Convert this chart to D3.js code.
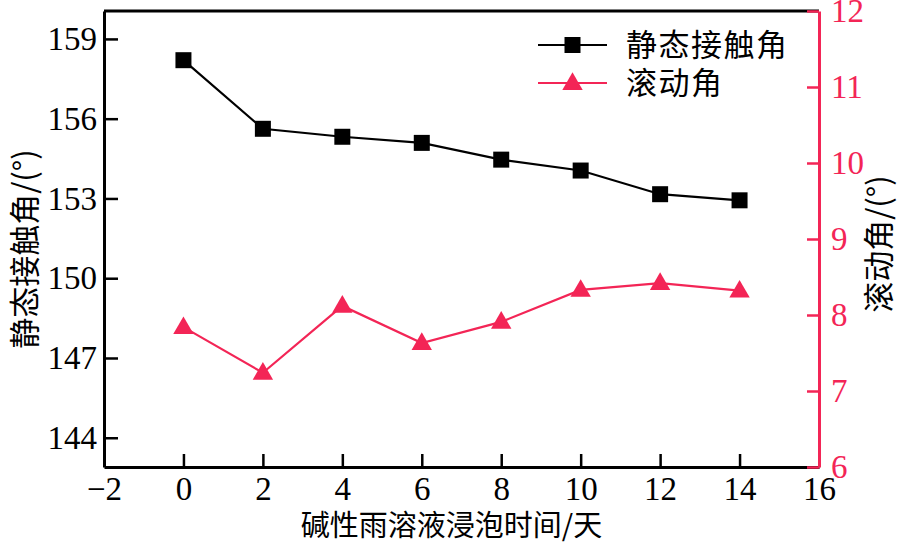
<!DOCTYPE html>
<html>
<head>
<meta charset="utf-8">
<script src="https://cdn.jsdelivr.net/npm/d3@7"></script>
<style>
  body { margin: 0; background: #fff; }
  svg { display: block; }
  .tick text { font-family: "Liberation Serif", "Times New Roman", serif; }
</style>
</head>
<body>
<svg width="904" height="546"></svg>
<script>
// data
var days = [0, 2, 4, 6, 8, 10, 12, 14];
var contactAngle = [158.2, 155.62, 155.32, 155.09, 154.46, 154.05, 153.16, 152.93];
var slideAngle = [7.84, 7.24, 8.12, 7.63, 7.91, 8.33, 8.42, 8.32];
var xTicks = [-2, 0, 2, 4, 6, 8, 10, 12, 14, 16];
var leftTicks = [144, 147, 150, 153, 156, 159];
var rightTicks = [6, 7, 8, 9, 10, 11, 12];
var seriesNames = ["静态接触角", "滚动角"];

var red = "#f32556";
var svg = d3.select("svg");
var pLeft = 104, pRight = 819, pTop = 11, pBottom = 467;

var x = d3.scaleLinear().domain([-2, 16]).range([pLeft, pRight]);
var yL = d3.scaleLinear().domain([142.9, 160.05]).range([pBottom, pTop]);
var yR = d3.scaleLinear().domain([6, 12]).range([pBottom, pTop]);

var fontCJK = "Noto Sans CJK SC";
var numSize = 33;

// x axis (ticks point inward)
var gx = svg.append("g")
  .attr("transform", "translate(0," + pBottom + ")")
  .call(d3.axisBottom(x).tickValues(xTicks).tickSizeInner(-13).tickSizeOuter(0)
    .tickFormat(function(d) { return d < 0 ? "\u2212" + Math.abs(d) : d; }));
gx.select(".domain").attr("stroke-width", 3);
gx.selectAll(".tick line").attr("stroke-width", 2.5);
gx.selectAll(".tick text").attr("y", 10).attr("dy", "0.71em")
  .attr("font-size", numSize).attr("fill", "#000");

// left axis
var gl = svg.append("g")
  .attr("transform", "translate(" + pLeft + ",0)")
  .call(d3.axisLeft(yL).tickValues(leftTicks).tickSizeInner(-14).tickSizeOuter(0));
gl.select(".domain").attr("stroke-width", 3);
gl.selectAll(".tick line").attr("stroke-width", 2.5);
gl.selectAll(".tick text").attr("x", -7).attr("font-size", numSize).attr("fill", "#000");

// top line
svg.append("line")
  .attr("x1", pLeft).attr("x2", pRight).attr("y1", pTop).attr("y2", pTop)
  .attr("stroke", "#000").attr("stroke-width", 3);

// right axis in red
var gr = svg.append("g")
  .attr("transform", "translate(" + pRight + ",0)")
  .call(d3.axisRight(yR).tickValues(rightTicks).tickFormat(d3.format("d"))
    .tickSizeInner(-12).tickSizeOuter(0));
gr.select(".domain").attr("stroke", red).attr("stroke-width", 3);
gr.selectAll(".tick line").attr("stroke", red).attr("stroke-width", 2.5);
gr.selectAll(".tick text").attr("x", 12).attr("font-size", numSize).attr("fill", red);

// lines and markers
var lineL = d3.line().x(function(d, i) { return x(days[i]); }).y(function(d) { return yL(d); });
var lineR = d3.line().x(function(d, i) { return x(days[i]); }).y(function(d) { return yR(d); });

svg.append("path").datum(contactAngle)
  .attr("d", lineL).attr("fill", "none").attr("stroke", "#000").attr("stroke-width", 2.2);
svg.append("path").datum(slideAngle)
  .attr("d", lineR).attr("fill", "none").attr("stroke", red).attr("stroke-width", 2.2);

var sq = d3.symbol().type(d3.symbolSquare).size(16 * 16);
var tri = d3.symbol().type(d3.symbolTriangle).size(180);

svg.selectAll(".sq").data(contactAngle).enter().append("path")
  .attr("class", "sq")
  .attr("d", sq)
  .attr("transform", function(d, i) { return "translate(" + x(days[i]) + "," + yL(d) + ")"; })
  .attr("fill", "#000");

svg.selectAll(".tri").data(slideAngle).enter().append("path")
  .attr("class", "tri")
  .attr("d", tri)
  .attr("transform", function(d, i) { return "translate(" + x(days[i]) + "," + (yR(d) + 1) + ")"; })
  .attr("fill", red);

// legend
var legend = svg.append("g");
[0, 1].forEach(function(i) {
  var ly = i === 0 ? 45 : 83;
  var col = i === 0 ? "#000" : red;
  legend.append("line").attr("x1", 538).attr("x2", 607).attr("y1", ly).attr("y2", ly)
    .attr("stroke", col).attr("stroke-width", 2.2);
  legend.append("path").attr("d", i === 0 ? sq : tri)
    .attr("transform", "translate(572.5," + (ly + (i === 0 ? 0 : 1)) + ")")
    .attr("fill", col);
  legend.append("text").attr("x", 626).attr("y", ly).attr("dy", "0.36em")
    .attr("font-family", fontCJK).attr("font-size", 31).attr("letter-spacing", 1.5)
    .text(seriesNames[i]);
});

// axis titles
svg.append("text")
  .attr("x", (pLeft + pRight) / 2 - 10).attr("y", 536)
  .attr("text-anchor", "middle")
  .attr("font-family", fontCJK).attr("font-size", 29)
  .text("碱性雨溶液浸泡时间/天");

svg.append("text")
  .attr("transform", "translate(36," + ((pTop + pBottom) / 2 + 10) + ") rotate(-90)")
  .attr("text-anchor", "middle")
  .attr("font-family", fontCJK).attr("font-size", 31)
  .text("静态接触角/(°)");

svg.append("text")
  .attr("transform", "translate(868," + ((pTop + pBottom) / 2 + 5) + ") rotate(-90)")
  .attr("text-anchor", "middle").attr("dy", "0.7em")
  .attr("font-family", fontCJK).attr("font-size", 31)
  .text("滚动角/(°)");
</script>
</body>
</html>
